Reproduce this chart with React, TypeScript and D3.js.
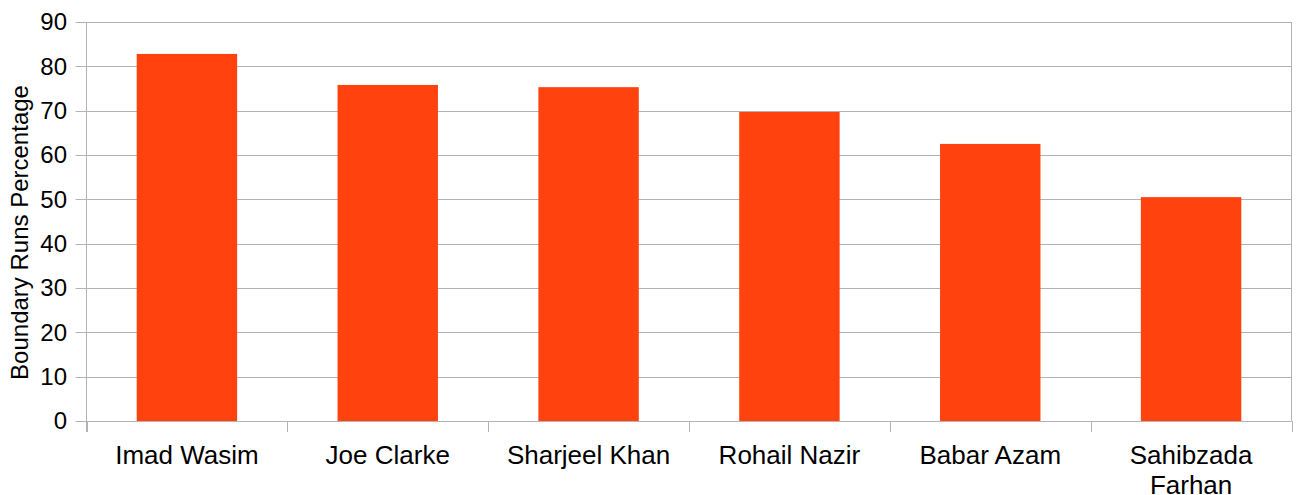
import React from "react";
import * as d3 from "d3";

const categories: string[][] = [
  ["Imad Wasim"],
  ["Joe Clarke"],
  ["Sharjeel Khan"],
  ["Rohail Nazir"],
  ["Babar Azam"],
  ["Sahibzada", "Farhan"],
];
const values: number[] = [82.8, 75.8, 75.3, 69.7, 62.5, 50.5];
const yTicks: number[] = [0, 10, 20, 30, 40, 50, 60, 70, 80, 90];
const yTitle = "Boundary Runs Percentage";

const W = 1297;
const H = 495;
const left = 86.5;
const right = 1291.5;
const top = 22;
const bottom = 421;
const FONT = "'Liberation Sans', Arial, sans-serif";

export default function App() {
  const x = d3
    .scaleBand<number>()
    .domain(categories.map((_, i) => i))
    .range([left, right])
    .paddingInner(0.5)
    .paddingOuter(0.25);
  const y = d3.scaleLinear().domain([0, 90]).range([bottom, top]);
  const step = x.step();
  const boundaries = d3.range(categories.length + 1).map((i) => left + i * step);

  return (
    <svg
      width={W}
      height={H}
      style={{ position: "absolute", left: 0, top: 0, background: "#fff" }}
    >
      {yTicks.map((t) => (
        <line
          key={"g" + t}
          x1={left - 11}
          x2={right}
          y1={Math.round(y(t)) + 0.5}
          y2={Math.round(y(t)) + 0.5}
          stroke="#b3b3b3"
          strokeWidth={1}
        />
      ))}
      {values.map((v, i) => (
        <rect
          key={"b" + i}
          x={x(i)}
          y={y(v)}
          width={x.bandwidth()}
          height={bottom - y(v)}
          fill="#ff420e"
        />
      ))}
      <line x1={left} x2={left} y1={top} y2={bottom + 11} stroke="#b3b3b3" />
      <line x1={right} x2={right} y1={top} y2={bottom} stroke="#b3b3b3" />
      {boundaries.map((b, i) => (
        <line
          key={"t" + i}
          x1={Math.round(b) + 0.5}
          x2={Math.round(b) + 0.5}
          y1={bottom}
          y2={bottom + 11}
          stroke="#b3b3b3"
        />
      ))}
      {yTicks.map((t) => (
        <text
          key={"yl" + t}
          x={67}
          y={y(t)}
          dy="0.35em"
          textAnchor="end"
          fontFamily={FONT}
          fontSize={24}
          fill="#000"
        >
          {t}
        </text>
      ))}
      {categories.map((lines, i) => (
        <text
          key={"xl" + i}
          x={(x(i) as number) + x.bandwidth() / 2}
          y={464}
          textAnchor="middle"
          fontFamily={FONT}
          fontSize={26}
          fill="#000"
        >
          {lines.map((l, j) => (
            <tspan key={j} x={(x(i) as number) + x.bandwidth() / 2} dy={j === 0 ? 0 : 30}>
              {l}
            </tspan>
          ))}
        </text>
      ))}
      <text
        transform={`translate(28, ${(top + bottom) / 2 + 11}) rotate(-90)`}
        textAnchor="middle"
        fontFamily={FONT}
        fontSize={24}
        fill="#000"
      >
        {yTitle}
      </text>
    </svg>
  );
}
